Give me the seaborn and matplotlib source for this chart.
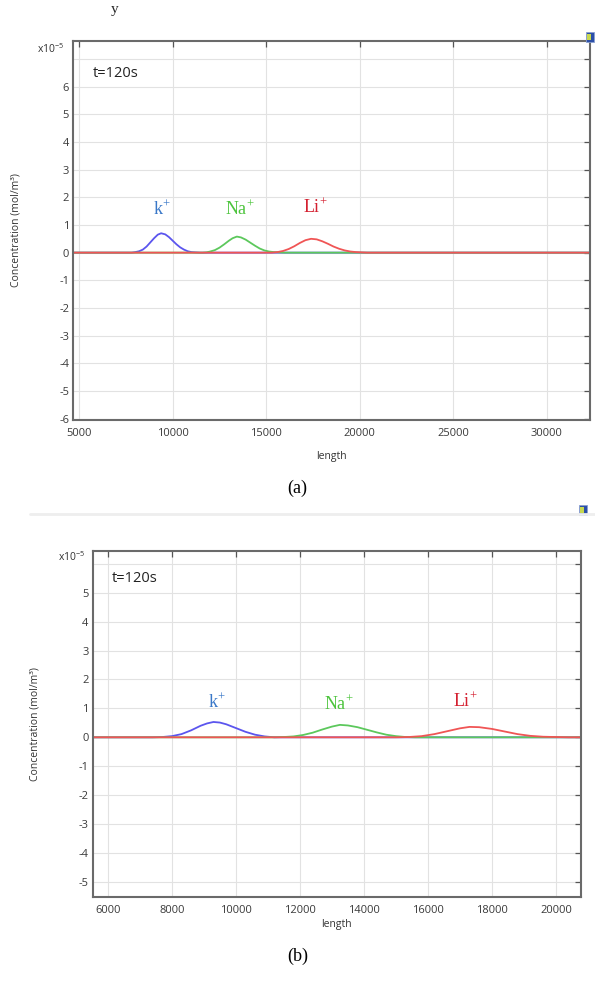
import numpy as np
import pandas as pd
import matplotlib
matplotlib.use("Agg")
import matplotlib.pyplot as plt
import seaborn as sns
from matplotlib.patches import Rectangle
from matplotlib.lines import Line2D

sns.set_theme(style="white")
plt.rcParams['font.family'] = ['Open Sans', 'DejaVu Sans']

# ---------------- data (concentration in units of 1e-5 mol/m^3) ----------------
# panel (a)
a_k_x = [4680, 7800, 8000, 8200, 8400, 8600, 8800, 9000, 9200, 9380, 9600, 9800, 10000,
         10200, 10400, 10600, 10800, 11000, 11200, 11450, 32320]
a_k_y = [0, 0, 0.02, 0.05, 0.11, 0.22, 0.37, 0.52, 0.65, 0.70, 0.66, 0.56, 0.43,
         0.30, 0.19, 0.11, 0.05, 0.02, 0.01, 0, 0]
a_na_x = [4680, 11600, 11800, 12000, 12250, 12500, 12750, 13000, 13200, 13430, 13650, 13900,
          14150, 14400, 14650, 14900, 15150, 15400, 15700, 16000, 32320]
a_na_y = [0, 0, 0.01, 0.04, 0.09, 0.18, 0.30, 0.43, 0.52, 0.58, 0.55, 0.47,
          0.36, 0.25, 0.15, 0.08, 0.04, 0.02, 0.01, 0, 0]
a_li_x = [4680, 15300, 15600, 15900, 16200, 16500, 16800, 17100, 17400, 17700, 18000, 18300,
          18600, 18900, 19200, 19500, 19800, 20100, 20400, 32320]
a_li_y = [0, 0, 0.02, 0.06, 0.13, 0.23, 0.35, 0.45, 0.50, 0.48, 0.41, 0.32,
          0.22, 0.14, 0.08, 0.04, 0.02, 0.01, 0, 0]

# panel (b)
b_k_x = [5527, 7400, 7700, 8000, 8300, 8600, 8900, 9100, 9300, 9500, 9700, 10000,
         10300, 10600, 10900, 11200, 20782]
b_k_y = [0, 0, 0.01, 0.04, 0.11, 0.24, 0.40, 0.48, 0.53, 0.51, 0.45, 0.32,
         0.19, 0.09, 0.03, 0, 0]
b_na_x = [5527, 11200, 11500, 11800, 12100, 12400, 12700, 13000, 13250, 13500, 13800, 14100,
          14400, 14700, 15000, 15300, 15600, 20782]
b_na_y = [0, 0, 0.01, 0.03, 0.08, 0.16, 0.27, 0.37, 0.43, 0.41, 0.35, 0.26,
          0.17, 0.09, 0.04, 0.01, 0, 0]
b_li_x = [5527, 15000, 15400, 15800, 16200, 16600, 17000, 17300, 17600, 18000, 18400, 18800,
          19200, 19600, 20000, 20400, 20782]
b_li_y = [0, 0, 0.01, 0.04, 0.11, 0.21, 0.31, 0.36, 0.35, 0.29, 0.20, 0.11,
          0.05, 0.02, 0.01, 0, 0]

ion_labels = ["k", "Na", "Li"]
a_xticks = [5000, 10000, 15000, 20000, 25000, 30000]
a_yticks = list(range(-6, 8))
b_xticks = [6000, 8000, 10000, 12000, 14000, 16000, 18000, 20000]
b_yticks = list(range(-5, 7))

line_colors = {"k": "#5b55ee", "Na": "#5cc85c", "Li": "#f05555"}
text_colors = {"k": "#3a78c8", "Na": "#4cc43c", "Li": "#d42030"}

W, H = 595, 981
fig = plt.figure(figsize=(W / 100, H / 100), dpi=100)
fig.patch.set_facecolor("white")


def fx(px):
    return px / W


def fy(py):
    return 1 - py / H


def make_panel(rect, xlim, ylim, xticks, yticks, series, labels_pos, tlabel_pos, mult_pos,
               ylabel_x, xl_y, cap_y, cap):
    left, top, right, bottom = rect
    ax = fig.add_axes([fx(left), fy(bottom), fx(right - left), fy(top) - fy(bottom)])
    for name, (xs, ys) in series:
        df = pd.DataFrame({"length": xs, "c": ys})
        sns.lineplot(data=df, x="length", y="c", ax=ax, color=line_colors[name],
                     linewidth=1.3, sort=False, estimator=None)
    ax.set_xlim(*xlim)
    ax.set_ylim(*ylim)
    ax.set_xticks(xticks)
    ax.set_yticks(yticks)
    ax.set_xticklabels([str(t) for t in xticks])
    ylabs = [str(t) for t in yticks]
    ylabs[-1] = ""
    ax.set_yticklabels(ylabs)
    ax.tick_params(axis="both", direction="in", length=4, width=0.9, color="#555555",
                   labelsize=8, labelcolor="#3a3a3a", top=True, right=True,
                   labeltop=False, labelright=False)
    ax.tick_params(axis="x", pad=6)
    ax.tick_params(axis="y", pad=3)
    ax.grid(True, color="#e2e2e2", linewidth=0.8)
    for s in ax.spines.values():
        s.set_color("#6a6a6a")
        s.set_linewidth(1.5)
        s.set_visible(True)
    ax.set_xlabel("")
    ax.set_ylabel("")
    for name, (lx, ly) in zip(ion_labels, labels_pos):
        ax.text(lx, ly, name + r"$^{\mathregular{+}}$", color=text_colors[name],
                fontsize=13, family=["Liberation Serif"], ha="center", va="center")
    ax.text(tlabel_pos[0], tlabel_pos[1], "t=120s", transform=ax.transAxes,
            fontsize=10.5, color="#222222", ha="left", va="center")
    fig.text(fx(mult_pos[0]), fy(mult_pos[1]), r"x10$^{\mathregular{-5}}$", fontsize=7.5,
             color="#333333", ha="right", va="center")
    fig.text(fx(ylabel_x), (fy(top) + fy(bottom)) / 2, "Concentration (mol/m³)",
             rotation=90, fontsize=7.5, color="#333333", ha="center", va="center")
    fig.text((fx(left) + fx(right)) / 2, fy(xl_y), "length", fontsize=7.5,
             color="#333333", ha="center", va="center")
    fig.text(0.5, fy(cap_y), cap, fontsize=13, family=["Liberation Serif"],
             color="black", ha="center", va="center")
    return ax


make_panel((73.3, 41, 590, 420), (4680, 32320), (-6.05, 7.65), a_xticks, a_yticks,
           [("k", (a_k_x, a_k_y)), ("Na", (a_na_x, a_na_y)), ("Li", (a_li_x, a_li_y))],
           [(9430, 1.55), (13600, 1.55), (17650, 1.65)], (0.038, 0.915), (64, 49),
           16, 456, 488, "(a)")

make_panel((92.7, 551, 581, 897), (5527, 20782), (-5.52, 6.44), b_xticks, b_yticks,
           [("k", (b_k_x, b_k_y)), ("Na", (b_na_x, b_na_y)), ("Li", (b_li_x, b_li_y))],
           [(9420, 1.22), (13230, 1.15), (17170, 1.24)], (0.04, 0.92), (85, 557),
           35, 924, 956, "(b)")

# separator line between panels
fig.add_artist(Line2D([fx(30), fx(595)], [fy(514), fy(514)], color="#eeeeee", linewidth=2))

# small icons at the top-right of each panel
for (cx, cy) in [(590, 37), (583, 510)]:
    fig.add_artist(Rectangle((fx(cx - 4), fy(cy + 5)), fx(8), fy(0) - fy(10),
                             facecolor="#2c4fa8", edgecolor="#8aa0d0", linewidth=0.6))
    fig.add_artist(Rectangle((fx(cx - 3), fy(cy + 3)), fx(4), fy(0) - fy(6),
                             facecolor="#c8d850", edgecolor="none"))

# fragment of text above the figure
fig.text(fx(115), fy(9), "y", fontsize=11, family=["Liberation Serif"], ha="center",
         va="center")

fig.savefig("out.png", dpi=100, facecolor="white")
